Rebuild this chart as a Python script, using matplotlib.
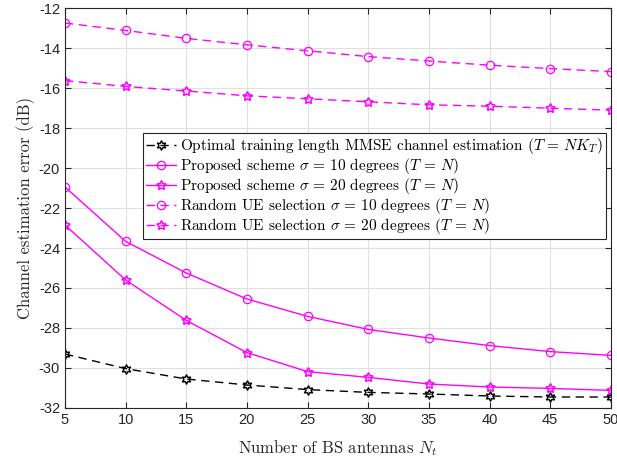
import matplotlib
matplotlib.use("Agg")
import matplotlib.pyplot as plt

Nt = [5, 10, 15, 20, 25, 30, 35, 40, 45, 50]
optimal = [-29.3, -30.03, -30.55, -30.85, -31.08, -31.22, -31.3, -31.4, -31.45, -31.45]
prop10 = [-20.95, -23.67, -25.25, -26.55, -27.42, -28.07, -28.5, -28.88, -29.18, -29.37]
prop20 = [-22.85, -25.6, -27.62, -29.23, -30.18, -30.47, -30.8, -30.95, -31.02, -31.12]
rand10 = [-12.75, -13.12, -13.52, -13.84, -14.14, -14.43, -14.65, -14.86, -15.03, -15.18]
rand20 = [-15.63, -15.92, -16.15, -16.39, -16.54, -16.69, -16.84, -16.91, -17.01, -17.11]
labels = [
    r"Optimal training length MMSE channel estimation ($T\,=\,NK_T$)",
    r"Proposed scheme $\sigma\,=\,10$ degrees ($T\,=\,N$)",
    r"Proposed scheme $\sigma\,=\,20$ degrees ($T\,=\,N$)",
    r"Random UE selection $\sigma\,=\,10$ degrees ($T\,=\,N$)",
    r"Random UE selection $\sigma\,=\,20$ degrees ($T\,=\,N$)",
]
xticks = [5, 10, 15, 20, 25, 30, 35, 40, 45, 50]
yticks = [-32, -30, -28, -26, -24, -22, -20, -18, -16, -14, -12]

plt.rcParams['mathtext.fontset'] = 'cm'
plt.rcParams['axes.unicode_minus'] = False
plt.rcParams['axes.formatter.use_mathtext'] = False

fig = plt.figure(figsize=(6.17, 4.63), dpi=100)
ax = fig.add_axes([0.1053, 0.1188, 0.8847, 0.8639])

mag = '#ff00ff'
ax.plot(Nt, optimal, color='black', linestyle=(0, (6, 4)), linewidth=1.0,
        marker=(6, 1, 0), markersize=7, markerfacecolor='none', markeredgecolor='black',
        markeredgewidth=1.0, label=labels[0])
ax.plot(Nt, prop10, color=mag, linestyle='-', linewidth=1.0,
        marker='o', markersize=6, markerfacecolor='none', markeredgewidth=0.9, label=labels[1])
ax.plot(Nt, prop20, color=mag, linestyle='-', linewidth=1.0,
        marker=(5, 1, 0), markersize=7, markerfacecolor='none', markeredgewidth=1.1, label=labels[2])
ax.plot(Nt, rand10, color=mag, linestyle=(0, (6, 4)), linewidth=1.0,
        marker='o', markersize=6, markerfacecolor='none', markeredgewidth=0.9, label=labels[3])
ax.plot(Nt, rand20, color=mag, linestyle=(0, (6, 4)), linewidth=1.0,
        marker=(5, 1, 0), markersize=7, markerfacecolor='none', markeredgewidth=1.1, label=labels[4])

ax.set_xlim(5, 50)
ax.set_ylim(-32, -12)
ax.set_xticks(xticks)
ax.set_yticks(yticks)
ax.set_xticklabels([str(v) for v in xticks], family='Liberation Sans', fontsize=10.5)
ax.set_yticklabels([str(v) for v in yticks], family='Liberation Sans', fontsize=10.5)
ax.tick_params(direction='in', top=True, right=True, length=4, width=0.8, colors='#262626')
ax.grid(True, color='#e0e0e0', linewidth=0.8)
ax.set_axisbelow(True)
for s in ax.spines.values():
    s.set_color('#262626')
    s.set_linewidth(0.8)

ax.set_xlabel(r"Number of BS antennas $N_t$", family='cmr10', fontsize=12, color='#262626', labelpad=8)
ax.set_ylabel("Channel estimation error (dB)", family='cmr10', fontsize=12, color='#262626', labelpad=3)

leg = ax.legend(loc='upper right', bbox_to_anchor=(0.991, 0.6875), prop={'family': 'cmr10', 'size': 11.0},
                frameon=True, fancybox=False, edgecolor='#262626', framealpha=1,
                labelspacing=0.0, handlelength=2.0, handletextpad=0.25, borderpad=0.2,
                borderaxespad=0)
leg.get_frame().set_linewidth(0.8)

fig.savefig("out.png", dpi=100)
